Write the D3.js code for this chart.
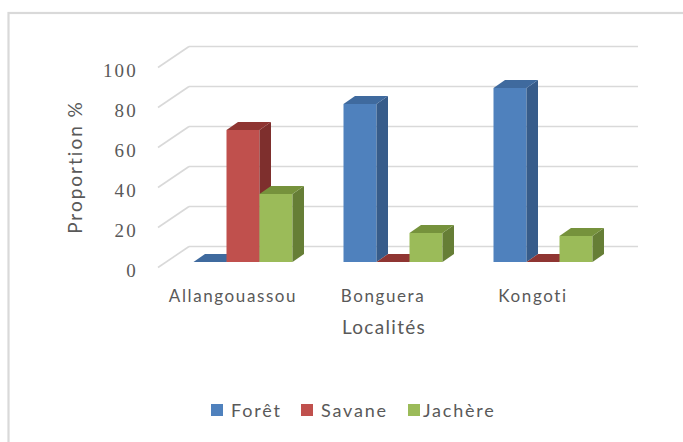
<!DOCTYPE html>
<html><head><meta charset="utf-8">
<script src="https://cdn.jsdelivr.net/npm/d3@7"></script>
<style>body{margin:0;background:#fff;} svg{display:block;}</style>
</head><body>
<svg id="c" width="683" height="442"></svg>
<script>
const categories = ["Allangouassou", "Bonguera", "Kongoti"];
const seriesNames = ["Forêt", "Savane", "Jachère"];
const foret   = [0, 79, 87];
const savane  = [66, 0, 0];
const jachere = [34, 14.5, 13];
const yTicks  = [0, 20, 40, 60, 80, 100];
const axisTitleY = "Proportion %";
const axisTitleX = "Localités";

const series = [
  {name: seriesNames[0], values: foret,   front: "#4F81BD", side: "#375C8A", top: "#3F6A9E"},
  {name: seriesNames[1], values: savane,  front: "#C0504D", side: "#7E2F2D", top: "#8F3532"},
  {name: seriesNames[2], values: jachere, front: "#9BBB59", side: "#667E36", top: "#76923C"}
];

const svg = d3.select("#c");
const txt = "#595959";
const font = "Lato, 'Open Sans', sans-serif";

// frame
svg.append("rect").attr("x", 8.5).attr("y", 13).attr("width", 700).attr("height", 460)
  .attr("fill", "none").attr("stroke", "#d9d9d9").attr("stroke-width", 2.2);

// 3D geometry
const frontX0 = 158, frontX1 = 607, frontBase = 267.5;
const depthDx = 31, depthDy = -21;
const y = d3.scaleLinear().domain([0, 100]).range([0, -200]);

// gridlines: back wall + side wall diagonals
const grid = svg.append("g").attr("stroke", "#d9d9d9").attr("stroke-width", 1.6).attr("fill", "none");
yTicks.forEach(t => {
  const fy = frontBase + y(t);
  grid.append("line").attr("x1", frontX0 + depthDx).attr("y1", fy + depthDy)
      .attr("x2", frontX1 + depthDx).attr("y2", fy + depthDy);
  grid.append("line").attr("x1", frontX0).attr("y1", fy)
      .attr("x2", frontX0 + depthDx).attr("y2", fy + depthDy);
});

// y tick labels
svg.append("g").selectAll("text").data(yTicks).join("text")
  .attr("x", 138).attr("y", d => frontBase + y(d) + 9)
  .attr("text-anchor", "end").attr("fill", txt)
  .attr("font-family", "'Liberation Serif', serif").attr("font-size", 19)
  .attr("letter-spacing", 2.2)
  .text(d => d);

// category bands (front plane for labels, bar plane for bars)
const xLabel = d3.scaleBand().domain(categories).range([frontX0, frontX0 + 450]);
const barOffX = 10, barBase = 262;
const xBar = d3.scaleBand().domain(categories).range([frontX0 + barOffX, frontX0 + barOffX + 450])
  .paddingInner(0.34).paddingOuter(0.17);
const xSer = d3.scaleBand().domain(seriesNames).range([0, xBar.bandwidth()]);
const bdx = 11.5, bdy = -8;

const bars = svg.append("g");
categories.forEach((c, ci) => {
  series.forEach(s => {
    const v = s.values[ci];
    const x0 = xBar(c) + xSer(s.name), w = xSer.bandwidth();
    const yt = barBase + y(v);
    if (v > 0) {
      bars.append("rect").attr("x", x0).attr("y", yt).attr("width", w).attr("height", barBase - yt)
        .attr("fill", s.front);
      bars.append("path").attr("fill", s.side)
        .attr("d", `M${x0 + w},${yt}L${x0 + w + bdx},${yt + bdy}L${x0 + w + bdx},${barBase + bdy}L${x0 + w},${barBase}Z`);
    }
    bars.append("path").attr("fill", s.top)
      .attr("d", `M${x0},${yt}L${x0 + bdx},${yt + bdy}L${x0 + w + bdx},${yt + bdy}L${x0 + w},${yt}Z`);
  });
});

// category labels
svg.append("g").selectAll("text").data(categories).join("text")
  .attr("x", d => xLabel(d) + xLabel.bandwidth() / 2).attr("y", 302)
  .attr("text-anchor", "middle").attr("fill", txt)
  .attr("font-family", font).attr("font-size", 17).attr("letter-spacing", 1.6)
  .text(d => d);

// axis titles
svg.append("text").attr("x", 384).attr("y", 334).attr("text-anchor", "middle")
  .attr("fill", txt).attr("font-family", font).attr("font-size", 19).attr("letter-spacing", 1.3)
  .text(axisTitleX);
svg.append("text").attr("transform", "translate(82,167) rotate(-90)").attr("text-anchor", "middle")
  .attr("fill", txt).attr("font-family", font).attr("font-size", 19).attr("letter-spacing", 2)
  .text(axisTitleY);

// legend
const legendX = [211, 301, 408];
const lg = svg.append("g");
series.forEach((s, i) => {
  lg.append("rect").attr("x", legendX[i]).attr("y", 404).attr("width", 12).attr("height", 12).attr("fill", s.front);
  lg.append("text").attr("x", legendX[i] + (i === 2 ? 15 : 20)).attr("y", 416.5)
    .attr("fill", txt).attr("font-family", font).attr("font-size", 18).attr("letter-spacing", 1.8)
    .text(s.name);
});
</script>
</body></html>
